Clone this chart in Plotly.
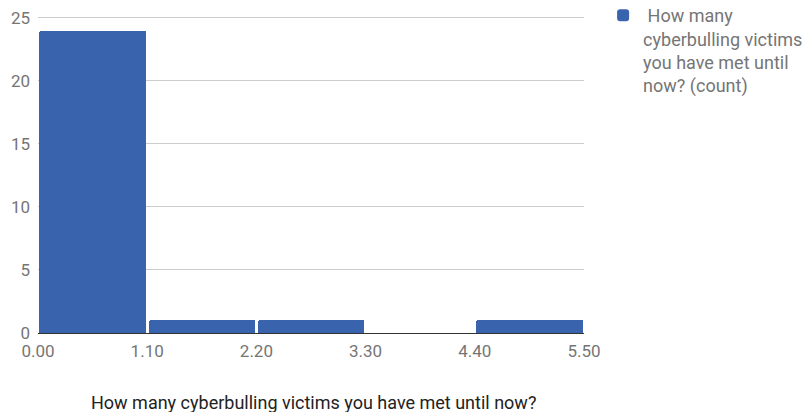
import plotly.graph_objects as go

# Histogram of survey answers: bin edges and counts per bin
bin_edges = [0.0, 1.1, 2.2, 3.3, 4.4, 5.5]
counts = [24, 1, 1, 0, 1]
tick_labels = ["0.00", "1.10", "2.20", "3.30", "4.40", "5.50"]
y_ticks = [0, 5, 10, 15, 20, 25]

series_name = " How many<br>cyberbulling victims<br>you have met until<br>now? (count)"
axis_title = "How many cyberbulling victims you have met until now?"

centers = [(a + b) / 2 for a, b in zip(bin_edges[:-1], bin_edges[1:])]
widths = [(b - a) * 0.975 for a, b in zip(bin_edges[:-1], bin_edges[1:])]

fig = go.Figure()
fig.add_trace(go.Bar(
    x=centers,
    y=counts,
    width=widths,
    name=series_name,
    marker=dict(color="#3a63ad", line=dict(width=0), cornerradius=2),
    showlegend=True,
))

TOP, BOTTOM = 16, 79
PLOT_H = 412 - TOP - BOTTOM

fig.update_layout(
    width=806,
    height=412,
    margin=dict(l=38, r=222, t=TOP, b=BOTTOM, autoexpand=False),
    paper_bgcolor="white",
    plot_bgcolor="white",
    font=dict(family="Roboto", size=17, color="#757575"),
    bargap=0,
    legend=dict(
        x=1.035, y=1.06, xanchor="left", yanchor="top",
        font=dict(family="Roboto", size=18, color="#757575"),
        valign="top",
        itemwidth=30,
        tracegroupgap=0,
    ),
    xaxis=dict(
        range=[bin_edges[0], bin_edges[-1]],
        tickvals=bin_edges,
        ticktext=tick_labels,
        showgrid=False,
        zeroline=False,
        showline=False,
        ticks="",
        automargin=False,
        ticklabelstandoff=6,
        tickfont=dict(size=17, color="#757575"),
    ),
    yaxis=dict(
        # a little headroom so the top gridline is drawn inside the plot
        range=[0, y_ticks[-1] * 1.006],
        tickvals=y_ticks,
        showgrid=True,
        gridcolor="#cccccc",
        gridwidth=1,
        zeroline=True,
        zerolinecolor="#333333",
        zerolinewidth=1,
        ticks="",
        automargin=False,
        ticklabelstandoff=7,
        tickfont=dict(size=17, color="#757575"),
    ),
    annotations=[dict(
        text=axis_title,
        xref="paper", yref="paper",
        x=0.505, y=-(402 - (TOP + PLOT_H)) / PLOT_H,
        xanchor="center", yanchor="middle",
        showarrow=False,
        font=dict(family="Roboto", size=18, color="#222222"),
    )],
)

fig.write_html("out.html")
